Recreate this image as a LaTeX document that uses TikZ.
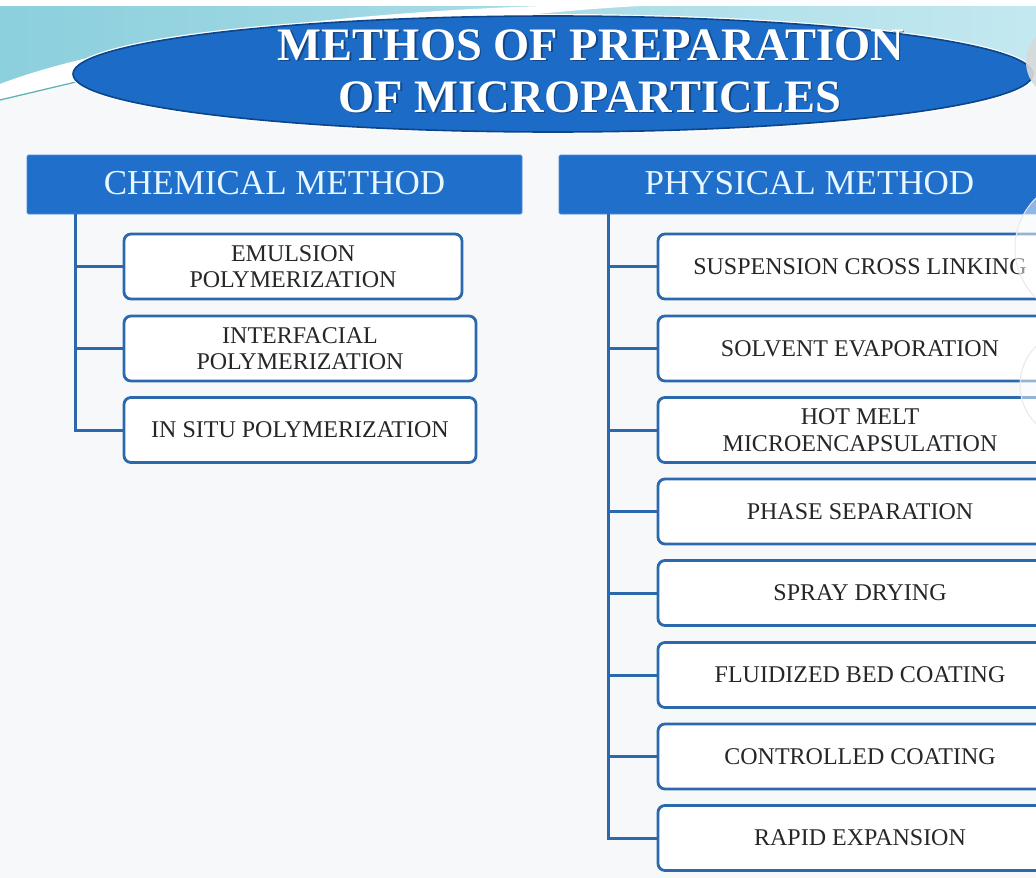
\documentclass[tikz,border=0pt]{standalone}
\usepackage{fontspec}
\setmainfont{Liberation Serif}
\usetikzlibrary{shapes.geometric}
\definecolor{bgwhite}{HTML}{F6F8FA}
\definecolor{cyanA}{HTML}{8CCFDD}
\definecolor{cyanB}{HTML}{C3E8F0}
\definecolor{tealline}{HTML}{5FB3B8}
\definecolor{ellfill}{HTML}{1C6BC6}
\definecolor{ellborder}{HTML}{0C4589}
\definecolor{hdrfill}{HTML}{1F6FCB}
\definecolor{hdrtext}{HTML}{E8F6FF}
\definecolor{boxblue}{HTML}{2B69AC}
\definecolor{boxtext}{HTML}{262626}
\definecolor{shadowc}{HTML}{0A2B55}
\begin{document}
\begin{tikzpicture}[x=1pt,y=-1pt,
  titletext/.style={anchor=base, inner sep=0pt, text=white, font=\fontsize{46.5}{52}\selectfont\bfseries},
  titleshadow/.style={anchor=base, inner sep=0pt, text=shadowc, opacity=0.55, font=\fontsize{46.5}{52}\selectfont\bfseries},
  hdr/.style={draw=hdrfill!80!white, line width=0.8pt, fill=hdrfill, rounded corners=1.5pt, minimum height=59pt, inner sep=0pt, text=hdrtext, font=\fontsize{35}{40}\selectfont},
  itembox/.style={draw=boxblue, line width=2.8pt, rounded corners=7pt, fill=white, minimum height=65pt, inner sep=0pt, align=center, text=boxtext, font=\fontsize{24}{26.5}\selectfont},
  conn/.style={draw=boxblue, line width=3pt},
  bubble/.style={fill=white, fill opacity=0.5, draw=gray!18, line width=1pt}]
\clip (0,0) rectangle (1036,878);
% background
\fill[bgwhite] (0,0) rectangle (1036,878);
\shade[left color=cyanA, right color=cyanB] (0,6) -- (1036,6) -- (1036,74) -- (553,74) -- (73,76) -- (0,84) -- cycle;
\fill[white] (0,0) rectangle (1036,6);
\fill[white] (0,100) .. controls (200,55) and (470,15) .. (640,6) -- (543,6) .. controls (350,12) and (120,38) .. (0,84) -- cycle;
\draw[tealline, line width=1.3pt] (0,100) -- (76,82);
% title ellipse
\node[ellipse, draw=white, line width=4pt, minimum width=960pt, minimum height=116pt, inner sep=0pt] (ellglow) at (553,74) {};
\node[ellipse, draw=ellborder, line width=1.6pt, fill=ellfill, minimum width=960pt, minimum height=116pt, inner sep=0pt] (ell) at (553,74) {};
\node[titleshadow] (t1s) at (592.5,61.5) {METHOS OF PREPARATION};
\node[titleshadow] (t2s) at (591.5,113.5) {OF MICROPARTICLES};
\node[titletext] (t1) at (591,60) {METHOS OF PREPARATION};
\node[titletext] (t2) at (590,112) {OF MICROPARTICLES};
% headers
\node[hdr, minimum width=495pt] (chem) at (274.5,184.5) {\raisebox{3pt}{CHEMICAL METHOD}};
\node[hdr, minimum width=501pt] (phys) at (809.5,184.5) {\raisebox{3pt}{PHYSICAL METHOD}};
% chemical items
\node[itembox, minimum width=338pt] (c1) at (293,266.5) {EMULSION\\POLYMERIZATION};
\node[itembox, minimum width=352pt] (c2) at (300,348.5) {INTERFACIAL\\POLYMERIZATION};
\node[itembox, minimum width=352pt] (c3) at (300,430) {IN SITU POLYMERIZATION};
\coordinate (lt) at (75,214);
\draw[conn] (lt) |- (c3.west);
\draw[conn] (lt |- c1.west) -- (c1.west);
\draw[conn] (lt |- c2.west) -- (c2.west);
% physical items
\node[itembox, minimum width=404pt] (r1) at (860,266.5) {SUSPENSION CROSS LINKING};
\node[itembox, minimum width=404pt] (r2) at (860,348.5) {SOLVENT EVAPORATION};
\node[itembox, minimum width=404pt] (r3) at (860,430) {HOT MELT\\MICROENCAPSULATION};
\node[itembox, minimum width=404pt] (r4) at (860,511.5) {PHASE SEPARATION};
\node[itembox, minimum width=404pt] (r5) at (860,593) {SPRAY DRYING};
\node[itembox, minimum width=404pt] (r6) at (860,675) {FLUIDIZED BED COATING};
\node[itembox, minimum width=404pt] (r7) at (860,756.5) {CONTROLLED COATING};
\node[itembox, minimum width=404pt] (r8) at (860,838) {RAPID EXPANSION};
\coordinate (rt) at (608,214);
\draw[conn] (rt) |- (r8.west);
\foreach \i in {1,...,7} {\draw[conn] (rt |- r\i.west) -- (r\i.west);}
% right-edge bubbles
\fill[gray!30, opacity=0.9] (1062,62) circle (36pt);
\draw[bubble] (1085,248) circle (70pt);
\draw[bubble] (1075,385) circle (55pt);
\end{tikzpicture}
\end{document}
